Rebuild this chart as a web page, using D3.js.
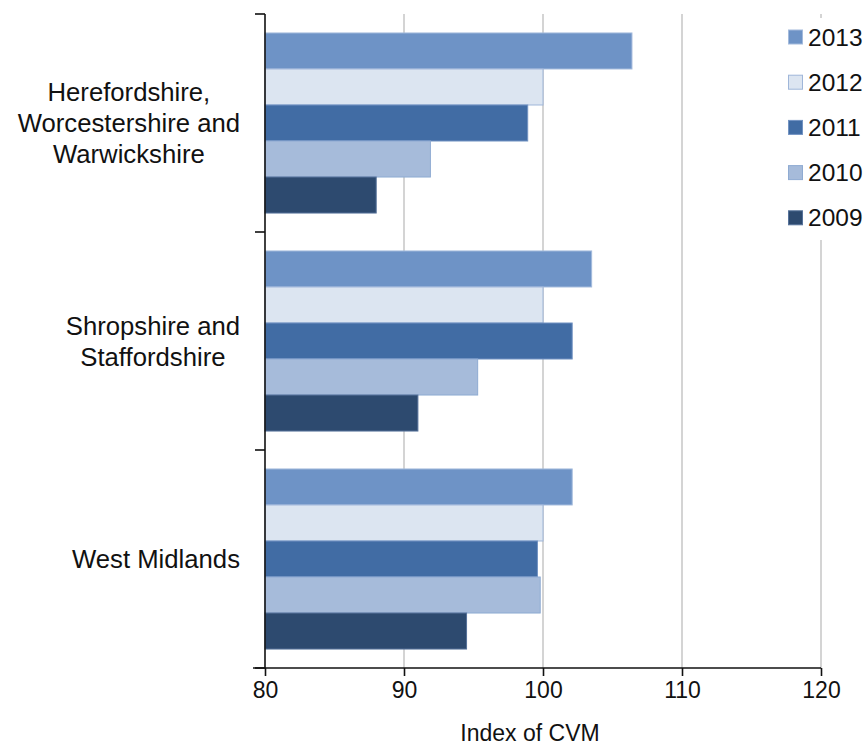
<!DOCTYPE html>
<html><head><meta charset="utf-8">
<script src="https://cdn.jsdelivr.net/npm/d3@7"></script>
<style>body{margin:0;background:#fff}text{font-family:"Liberation Sans",Arial,sans-serif;fill:#111}</style>
</head><body>
<svg id="c" width="865" height="746"></svg>
<script>
const categories = ["Herefordshire, Worcestershire and Warwickshire", "Shropshire and Staffordshire", "West Midlands"];
const categoryLines = [["Herefordshire,", "Worcestershire and", "Warwickshire"], ["Shropshire and", "Staffordshire"], ["West Midlands"]];
const years = ["2013", "2012", "2011", "2010", "2009"];
const v2013 = [106.4, 103.5, 102.1];
const v2012 = [100.0, 100.0, 100.0];
const v2011 = [98.9, 102.1, 99.6];
const v2010 = [91.9, 95.3, 99.8];
const v2009 = [88.0, 91.0, 94.5];
const xTicks = [80, 90, 100, 110, 120];
const colors = ["#6e93c6", "#dce5f1", "#416ca4", "#a6bbda", "#2d4a6f"];
const strokes = ["#a3badc", "#9fb6d9", "#7293c2", "#8fabd2", "#56729a"];
const seriesVals = [v2013, v2012, v2011, v2010, v2009];

const svg = d3.select("#c");
const pL = 265, pR = 821, pT = 14, pB = 668;
const x = d3.scaleLinear().domain([80, 120]).range([pL, pR]);
const y = d3.scaleBand().domain(categories).range([pT, pB]).paddingInner(0.174).paddingOuter(0.087);
const yi = d3.scaleBand().domain(years).range([0, y.bandwidth()]);

// gridlines
svg.append("g").selectAll("line").data(xTicks.slice(1)).join("line")
  .attr("x1", d => x(d)).attr("x2", d => x(d)).attr("y1", pT).attr("y2", pB)
  .attr("stroke", "#c6c6c6").attr("stroke-width", 1.5);

// bars
categories.forEach((c, ci) => {
  const g = svg.append("g").attr("transform", `translate(0,${y(c)})`);
  years.forEach((yr, si) => {
    g.append("rect").attr("x", x(80)).attr("y", yi(yr))
      .attr("width", x(seriesVals[si][ci]) - x(80)).attr("height", yi.bandwidth())
      .attr("fill", colors[si]).attr("stroke", strokes[si]).attr("stroke-width", 1);
  });
});

// y axis with category boundary ticks
const bounds = [pT].concat(categories.map((c, i) => pT + y.step() * (i + 1)));
svg.append("line").attr("x1", pL).attr("x2", pL).attr("y1", pT).attr("y2", pB).attr("stroke", "#111").attr("stroke-width", 1.6);
svg.append("g").selectAll("line").data(bounds).join("line")
  .attr("x1", pL - 10).attr("x2", pL).attr("y1", d => d).attr("y2", d => d)
  .attr("stroke", "#111").attr("stroke-width", 1.6);

// x axis
const xa = svg.append("g").attr("transform", `translate(0,${pB})`)
  .call(d3.axisBottom(x).tickValues(xTicks).tickSize(8).tickPadding(6).tickSizeOuter(0));
xa.select(".domain").attr("stroke", "#111").attr("stroke-width", 1.6).attr("d", `M${pL - 12},0H${pR}`);
xa.selectAll(".tick line").attr("stroke", "#111").attr("stroke-width", 1.6);
xa.selectAll(".tick text").attr("font-size", 23).attr("font-family", "Liberation Sans, Arial, sans-serif").attr("fill", "#111");

svg.append("text").attr("x", 530).attr("y", 741).attr("text-anchor", "middle").attr("font-size", 23).text("Index of CVM");

// category labels: block right aligned, lines centered
const lineH = 31, rightEdge = 240;
categoryLines.forEach((lines, ci) => {
  const cy = y(categories[ci]) + y.bandwidth() / 2;
  const g = svg.append("g");
  const ts = lines.map((l, li) => g.append("text").attr("font-size", 25.7).attr("text-anchor", "middle")
    .attr("y", cy + (li - (lines.length - 1) / 2) * lineH + 9).text(l));
  const w = d3.max(ts, t => t.node().getComputedTextLength());
  ts.forEach(t => t.attr("x", rightEdge - w / 2));
});

// legend
const lg = svg.append("g");
lg.append("rect").attr("x", 780).attr("y", 18).attr("width", 85).attr("height", 222).attr("fill", "#fff");
years.forEach((yr, i) => {
  const cy = 37 + i * 45.2;
  lg.append("rect").attr("x", 788.5).attr("y", cy - 7).attr("width", 14).attr("height", 14)
    .attr("fill", colors[i]).attr("stroke", strokes[i]).attr("stroke-width", 1);
  lg.append("text").attr("x", 808).attr("y", cy + 8.5).attr("font-size", 24.5).text(yr);
});
</script>
</body></html>
